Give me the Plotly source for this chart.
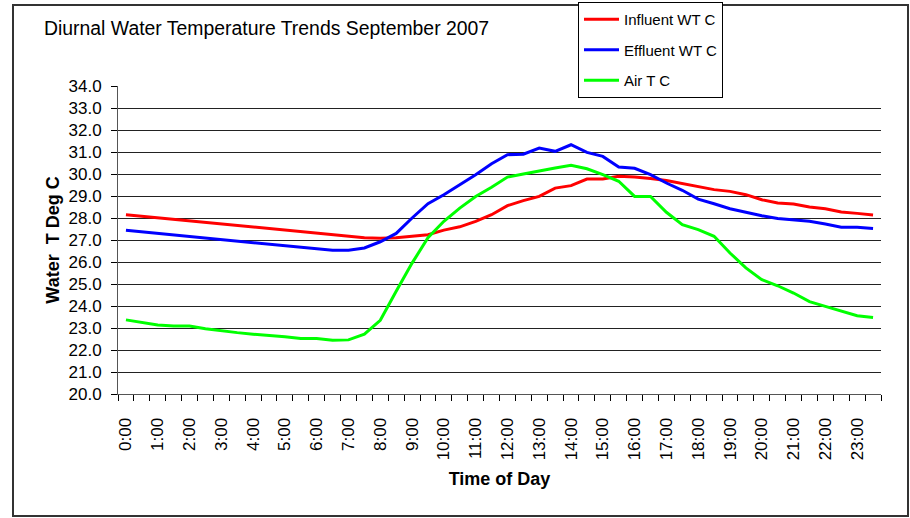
import plotly.graph_objects as go

time_labels = [
    "0:00", "0:30", "1:00", "1:30", "2:00", "2:30", "3:00", "3:30",
    "4:00", "4:30", "5:00", "5:30", "6:00", "6:30", "7:00", "7:30",
    "8:00", "8:30", "9:00", "9:30", "10:00", "10:30", "11:00", "11:30",
    "12:00", "12:30", "13:00", "13:30", "14:00", "14:30", "15:00", "15:30",
    "16:00", "16:30", "17:00", "17:30", "18:00", "18:30", "19:00", "19:30",
    "20:00", "20:30", "21:00", "21:30", "22:00", "22:30", "23:00", "23:30",
]

influent = [
    28.15, 28.08, 28.01, 27.94, 27.87, 27.80, 27.73, 27.66,
    27.59, 27.52, 27.45, 27.38, 27.31, 27.24, 27.17, 27.10,
    27.08, 27.10, 27.17, 27.24, 27.45, 27.60, 27.85, 28.15,
    28.56, 28.79, 28.98, 29.36, 29.47, 29.77, 29.77, 29.90,
    29.86, 29.80, 29.70, 29.56, 29.41, 29.29, 29.21, 29.06,
    28.83, 28.68, 28.64, 28.50, 28.42, 28.27, 28.21, 28.14,
]

effluent = [
    27.44, 27.37, 27.30, 27.23, 27.16, 27.09, 27.02, 26.95,
    26.88, 26.81, 26.74, 26.67, 26.60, 26.53, 26.53, 26.64,
    26.92, 27.30, 28.00, 28.65, 29.06, 29.50, 29.97, 30.47,
    30.88, 30.90, 31.18, 31.03, 31.33, 30.98, 30.80, 30.32,
    30.26, 29.97, 29.59, 29.26, 28.86, 28.65, 28.42, 28.26,
    28.10, 27.98, 27.92, 27.85, 27.73, 27.58, 27.58, 27.52,
]

air = [
    23.37, 23.24, 23.14, 23.09, 23.09, 22.97, 22.87, 22.79,
    22.72, 22.67, 22.60, 22.52, 22.52, 22.44, 22.46, 22.72,
    23.35, 24.67, 25.95, 27.10, 27.85, 28.45, 28.98, 29.40,
    29.86, 30.00, 30.12, 30.27, 30.40, 30.24, 29.97, 29.67,
    28.98, 28.98, 28.26, 27.70, 27.47, 27.17, 26.41, 25.73,
    25.20, 24.92, 24.59, 24.20, 23.98, 23.76, 23.56, 23.48,
]

series_names = ["Influent WT C", "Effluent WT C", "Air T C"]
series_colors = ["#FF0000", "#0000FF", "#00FF00"]
y_ticks = [20, 21, 22, 23, 24, 25, 26, 27, 28, 29, 30, 31, 32, 33, 34]

W, H = 910, 518
ML, MR, MT, MB = 118, 29, 86, 124
PW = W - ML - MR
PH = H - MT - MB

x_idx = list(range(len(time_labels)))

fig = go.Figure()
for name, vals, col in zip(series_names, [influent, effluent, air], series_colors):
    fig.add_trace(go.Scatter(
        x=x_idx, y=vals, mode="lines", name=name, legendgroup=name,
        line=dict(color=col, width=3),
    ))

def px_x(p):
    return (p - ML) / PW

def px_y(p):
    return (H - MB - p) / PH

FONT = "Liberation Sans, Arial, sans-serif"

fig.update_layout(
    width=W, height=H,
    margin=dict(l=ML, r=MR, t=MT, b=MB, pad=0, autoexpand=False),
    paper_bgcolor="white", plot_bgcolor="white",
    font=dict(family=FONT, color="black", size=17),
    showlegend=True,
    legend=dict(
        x=px_x(578), y=px_y(2), xanchor="left", yanchor="top",
        bordercolor="black", borderwidth=1, bgcolor="white",
        font=dict(size=15, family=FONT),
        tracegroupgap=8,
        itemwidth=35,
    ),
    annotations=[
        dict(text="Diurnal Water Temperature Trends September 2007",
             xref="paper", yref="paper", x=px_x(42), y=px_y(28),
             xanchor="left", yanchor="middle", showarrow=False,
             font=dict(size=19.4, family=FONT)),
    ],
    shapes=[
        dict(type="rect", xref="paper", yref="paper",
             x0=px_x(13), x1=px_x(908), y0=px_y(516), y1=px_y(5),
             line=dict(color="#333333", width=2), layer="below"),
    ],
)

fig.update_xaxes(
    range=[-0.5, len(time_labels) - 0.5],
    tickmode="array",
    tickvals=x_idx[::2],
    ticktext=time_labels[::2],
    tickangle=-90,
    ticks="",
    ticklabelstandoff=16,
    tickfont=dict(size=17),
    showgrid=False,
    showline=True, linecolor="#555555", linewidth=1,
    zeroline=False,
    minor=dict(
        tickmode="array",
        tickvals=[i - 0.5 for i in range(len(time_labels) + 1)],
        ticks="outside", ticklen=6, tickcolor="black", tickwidth=1,
        showgrid=False,
    ),
    title=dict(text="<b>Time of Day</b>", font=dict(size=18), standoff=13),
)

fig.update_yaxes(
    range=[20, 34],
    tickmode="array",
    tickvals=y_ticks,
    ticktext=[f"{v:.1f}" for v in y_ticks],
    ticks="outside", ticklen=6, tickcolor="black", tickwidth=1,
    ticklabelstandoff=6,
    tickfont=dict(size=17),
    showgrid=True, gridcolor="#222222", gridwidth=1,
    showline=True, linecolor="#555555", linewidth=1,
    zeroline=False,
    title=dict(text="<b>Water  T Deg C</b>", font=dict(size=18), standoff=4),
)

fig.write_html("out.html", config={"displayModeBar": False},
               post_script="document.body.style.margin='0';")
